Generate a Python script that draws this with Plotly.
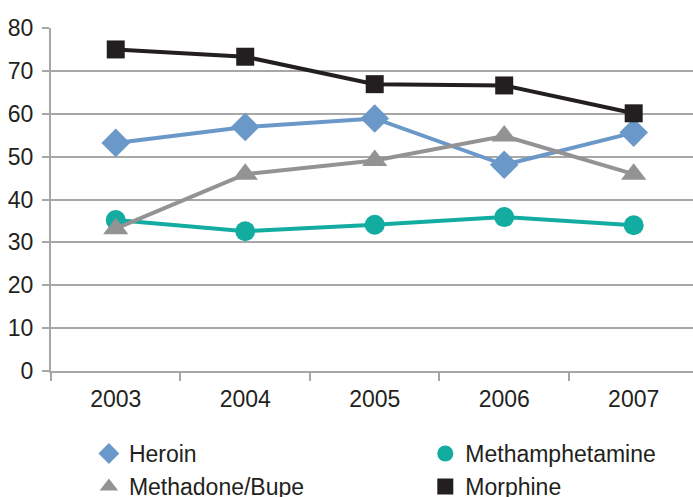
import plotly.graph_objects as go

years = ["2003", "2004", "2005", "2006", "2007"]
heroin = [53.2, 56.9, 58.9, 48.1, 55.6]
methamphetamine = [35.2, 32.6, 34.1, 35.9, 34.0]
methadone = [33.2, 45.9, 49.1, 54.8, 45.9]
morphine = [75.0, 73.3, 66.9, 66.6, 60.1]
y_ticks = [0, 10, 20, 30, 40, 50, 60, 70, 80]

FONT = "Liberation Sans, Arial, sans-serif"
TXT = "#231F20"
GRID = "#A7A7A7"

series = [
    ("Heroin", heroin, "#6A98C8", "diamond", 22, "legend", 1),
    ("Methamphetamine", methamphetamine, "#12ACA0", "circle", 20, "legend2", 1),
    ("Methadone/Bupe", methadone, "#939393", "triangle-up", 22, "legend", 2),
    ("Morphine", morphine, TXT, "square", 18, "legend2", 2),
]

fig = go.Figure()
for name, vals, col, sym, sz, leg, rank in series:
    fig.add_trace(go.Scatter(x=years, y=vals, name=name, mode="lines",
                             line=dict(color=col, width=4), showlegend=False,
                             hoverinfo="skip"))
    fig.add_trace(go.Scatter(x=years, y=vals, name=name, mode="markers",
                             marker=dict(symbol=sym, size=sz, color=col),
                             legend=leg, legendrank=rank))

leg_common = dict(orientation="v", font=dict(family=FONT, size=23, color=TXT),
                  bgcolor="rgba(0,0,0,0)", itemsizing="trace", itemclick=False,
                  yanchor="top", xanchor="left", tracegroupgap=0)

fig.update_layout(
    width=693, height=497,
    margin=dict(l=51, r=0, t=28, b=126, autoexpand=False),
    paper_bgcolor="white", plot_bgcolor="white",
    font=dict(family=FONT, size=23, color=TXT),
    showlegend=True,
    legend=dict(x=0.059, y=-0.178, **leg_common),
    legend2=dict(x=0.583, y=-0.178, **leg_common),
    xaxis=dict(type="category", range=[-0.5, 4.458], tickson="boundaries",
               ticks="outside", ticklen=8, tickwidth=2, tickcolor=GRID,
               showline=True, linecolor=GRID, linewidth=2, showgrid=False,
               tickfont=dict(family=FONT, size=23, color=TXT), ticklabelstandoff=6),
    yaxis=dict(range=[0, 80], tickvals=y_ticks, ticks="outside", ticklen=7, tickwidth=2,
               tickcolor=GRID, showline=True, linecolor=GRID, linewidth=2,
               showgrid=True, gridcolor=GRID, gridwidth=2, zeroline=False,
               tickfont=dict(family=FONT, size=23, color=TXT), ticklabelstandoff=4),
)

fig.write_html("out.html")
